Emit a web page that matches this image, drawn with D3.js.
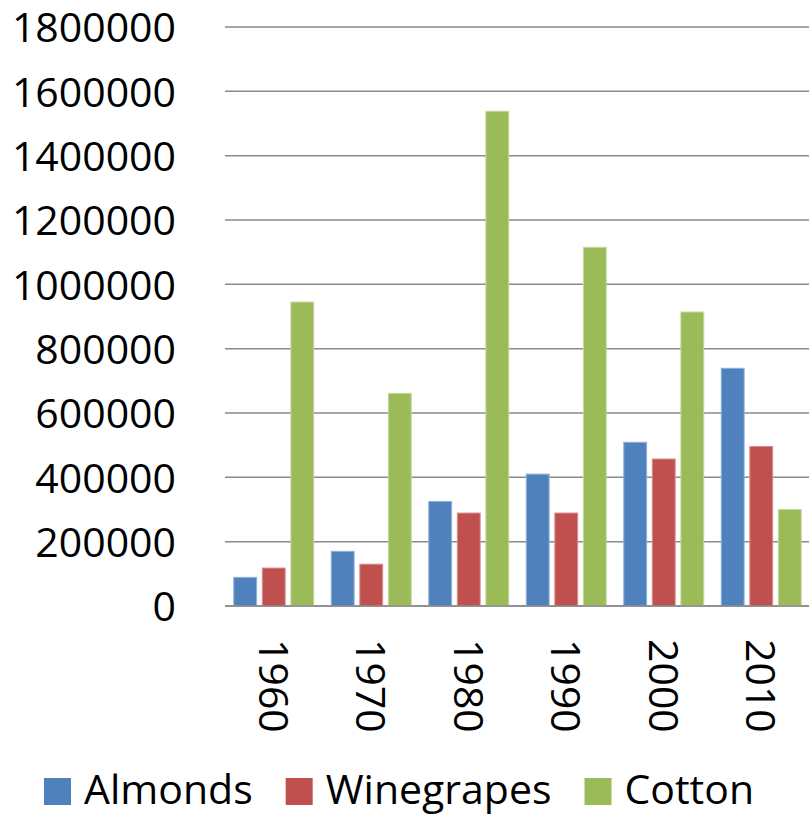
<!DOCTYPE html>
<html>
<head>
<meta charset="utf-8">
<script src="https://cdn.jsdelivr.net/npm/d3@7"></script>
<style>
  html, body { margin: 0; padding: 0; background: #fff; }
  svg text { font-family: "Open Sans", "Noto Sans", sans-serif; fill: #000; }
</style>
</head>
<body>
<svg id="chart" width="809" height="815"></svg>
<script>
// Irrigated acreage by crop, by decade
const years = ["1960", "1970", "1980", "1990", "2000", "2010"];
const seriesNames = ["Almonds", "Winegrapes", "Cotton"];
const almonds    = [89000, 170000, 325000, 410000, 509000, 739000];
const winegrapes = [118000, 130000, 289000, 289000, 457000, 496000];
const cotton     = [945000, 661000, 1538000, 1115000, 914000, 300000];
const yTicks = [0, 200000, 400000, 600000, 800000, 1000000, 1200000, 1400000, 1600000, 1800000];

const colors = { Almonds: "#4F81BD", Winegrapes: "#C0504D", Cotton: "#9BBB59" };
const edges  = { Almonds: "#8fb0d8", Winegrapes: "#d88e8c", Cotton: "#c3d89e" };

const values = { Almonds: almonds, Winegrapes: winegrapes, Cotton: cotton };
const rows = years.map((yr, i) => ({
  year: yr,
  items: seriesNames.map(s => ({ key: s, value: values[s][i] }))
}));

const svg = d3.select("#chart");
const fontSize = 41;

const x0 = d3.scaleBand().domain(years).range([225, 810]).padding(0);
const bw = x0.bandwidth();
const x1 = d3.scaleBand().domain(seriesNames)
  .range([bw * 0.09, bw * 0.91]).paddingInner(0.2).paddingOuter(0);
const y = d3.scaleLinear().domain([0, 1800000]).range([606, 27]);

// horizontal gridlines
svg.append("g")
  .selectAll("line")
  .data(yTicks)
  .join("line")
  .attr("x1", 225)
  .attr("x2", 809)
  .attr("y1", d => y(d))
  .attr("y2", d => y(d))
  .attr("stroke", "#8a8a8a")
  .attr("stroke-width", 1.5);

// value axis labels
const yAxis = d3.axisLeft(y).tickValues(yTicks).tickSize(0).tickPadding(0)
  .tickFormat(d3.format("d"));
const yg = svg.append("g").attr("transform", "translate(176,0)").call(yAxis);
yg.select(".domain").remove();
yg.selectAll("text")
  .attr("font-size", fontSize)
  .attr("font-family", null)
  .attr("dy", "0.36em")
  .attr("x", 0)
  .style("fill", "#000");

// bars
const groups = svg.append("g")
  .selectAll("g")
  .data(rows)
  .join("g")
  .attr("transform", d => `translate(${x0(d.year)},0)`);

groups.selectAll("rect")
  .data(d => d.items)
  .join("rect")
  .attr("x", d => x1(d.key))
  .attr("width", x1.bandwidth())
  .attr("y", d => y(d.value))
  .attr("height", d => y(0) - y(d.value))
  .attr("fill", d => colors[d.key])
  .attr("stroke", d => edges[d.key])
  .attr("stroke-width", 1);

// redraw baseline over bar bottoms
svg.append("line")
  .attr("x1", 225).attr("x2", 809)
  .attr("y1", y(0)).attr("y2", y(0))
  .attr("stroke", "#8a8a8a").attr("stroke-width", 1.5);

// rotated category labels
svg.append("g")
  .selectAll("text")
  .data(years)
  .join("text")
  .attr("transform", d => `translate(${x0(d) + bw / 2},639) rotate(90)`)
  .attr("dy", "0.36em")
  .attr("font-size", fontSize)
  .text(d => d);

// legend
const legend = svg.append("g");
let lx = 44;
seriesNames.forEach(name => {
  legend.append("rect")
    .attr("x", lx).attr("y", 778)
    .attr("width", 27).attr("height", 27)
    .attr("fill", colors[name]);
  const t = legend.append("text")
    .attr("x", lx + 27 + 13)
    .attr("y", 804)
    .attr("font-size", fontSize)
    .text(name);
  const w = t.node().getComputedTextLength();
  lx = lx + 27 + 13 + w + 33;
});
</script>
</body>
</html>
